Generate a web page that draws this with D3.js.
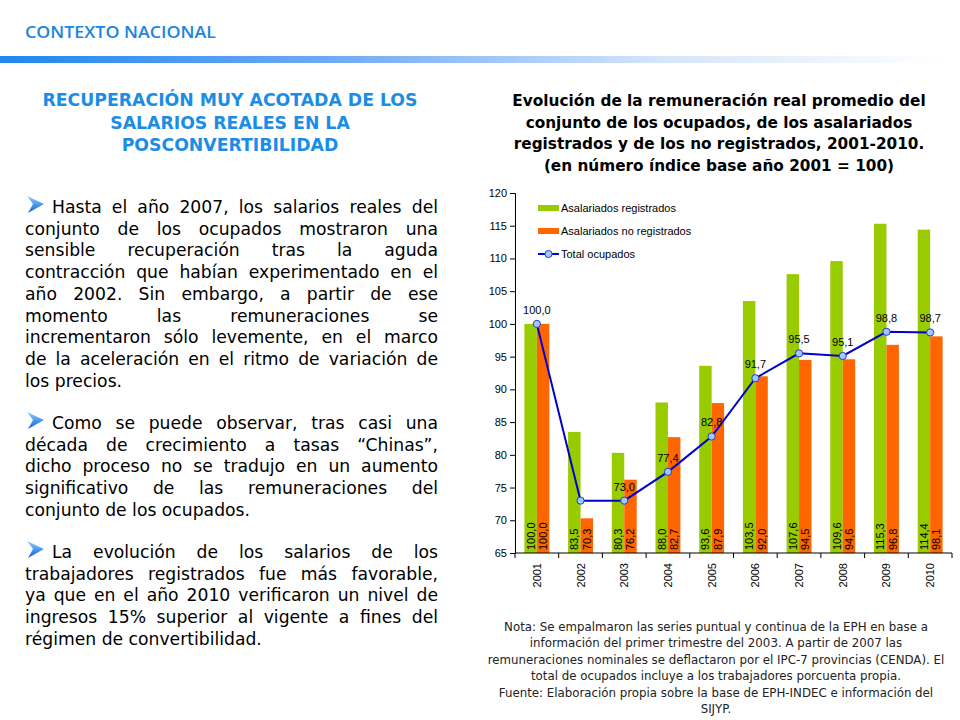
<!DOCTYPE html>
<html><head><meta charset="utf-8">
<script src="https://cdn.jsdelivr.net/npm/d3@7/dist/d3.min.js"></script>
<style>body{margin:0;background:#fff}svg{display:block}</style>
</head><body>
<script>
// ---------- DATA ----------
const years = ["2001","2002","2003","2004","2005","2006","2007","2008","2009","2010"];
const registrados   = [100.0, 83.5, 80.3, 88.0, 93.6, 103.5, 107.6, 109.6, 115.3, 114.4];
const noRegistrados = [100.0, 70.3, 76.2, 82.7, 87.9, 92.0, 94.5, 94.6, 96.8, 98.1];
const totalOcupados = [100.0, 73.0, 73.0, 77.4, 82.8, 91.7, 95.5, 95.1, 98.8, 98.7];
const showTotalLabel = [true, false, true, true, true, true, true, true, true, true];
const yTicks = [65, 70, 75, 80, 85, 90, 95, 100, 105, 110, 115, 120];
const seriesNames = ["Asalariados registrados", "Asalariados no registrados", "Total ocupados"];

const headerText = "CONTEXTO NACIONAL";
const leftTitle = ["RECUPERACIÓN MUY ACOTADA DE LOS", "SALARIOS REALES EN LA", "POSCONVERTIBILIDAD"];
const paragraphs = [
  ["Hasta el año 2007, los salarios reales del",
   "conjunto de los ocupados mostraron una",
   "sensible recuperación tras la aguda",
   "contracción que habían experimentado en el",
   "año 2002. Sin embargo, a partir de ese",
   "momento las remuneraciones se",
   "incrementaron sólo levemente, en el marco",
   "de la aceleración en el ritmo de variación de",
   "los precios."],
  ["Como se puede observar, tras casi una",
   "década de crecimiento a tasas “Chinas”,",
   "dicho proceso no se tradujo en un aumento",
   "significativo de las remuneraciones del",
   "conjunto de los ocupados."],
  ["La evolución de los salarios de los",
   "trabajadores registrados fue más favorable,",
   "ya que en el año 2010 verificaron un nivel de",
   "ingresos 15% superior al vigente a fines del",
   "régimen de convertibilidad."]
];
const chartTitle = ["Evolución de la remuneración real promedio del",
  "conjunto de los ocupados, de los asalariados",
  "registrados y de los no registrados, 2001-2010.",
  "(en número índice base año 2001 = 100)"];
const noteLines = ["Nota: Se empalmaron las series puntual y continua de la EPH en base a",
  "información del primer trimestre del 2003. A partir de 2007 las",
  "remuneraciones nominales se deflactaron por el IPC-7 provincias (CENDA). El",
  "total de ocupados incluye a los trabajadores porcuenta propia.",
  "Fuente: Elaboración propia sobre la base de EPH-INDEC e información del",
  "SIJYP."];

// ---------- SETUP ----------
const W = 960, H = 720;
const svg = d3.select("body").append("svg").attr("width", W).attr("height", H);
const defs = svg.append("defs");
const grad = defs.append("linearGradient").attr("id", "hdr").attr("x1", "0").attr("x2", "1");
grad.append("stop").attr("offset", "0").attr("stop-color", "#1f87ee");
grad.append("stop").attr("offset", "0.35").attr("stop-color", "#6eaaf6");
grad.append("stop").attr("offset", "0.7").attr("stop-color", "#d5e5fb");
grad.append("stop").attr("offset", "1").attr("stop-color", "#ffffff");
const ag = defs.append("linearGradient").attr("id", "arrow").attr("x1", "0").attr("y1", "0").attr("x2", "0").attr("y2", "1");
ag.append("stop").attr("offset", "0").attr("stop-color", "#8fd0ff");
ag.append("stop").attr("offset", "1").attr("stop-color", "#0a64d8");

// Header
svg.append("text").attr("x", 25).attr("y", 38).text(headerText)
  .attr("font-family", "Open Sans").attr("font-weight", 600).attr("font-size", 15.5)
  .attr("fill", "#1a86e0").attr("textLength", 191).attr("lengthAdjust", "spacingAndGlyphs");
svg.append("rect").attr("x", 0).attr("y", 56).attr("width", 945).attr("height", 7).attr("fill", "url(#hdr)");

// Left title
svg.append("g").selectAll("text").data(leftTitle).join("text")
  .attr("x", 230).attr("y", (d, i) => 106 + i * 22.5)
  .attr("text-anchor", "middle").attr("font-family", "DejaVu Sans").attr("font-weight", 700)
  .attr("font-size", 17.3).attr("fill", "#1a8de6").text(d => d);

// Body paragraphs (justified)
const bodyFont = "DejaVu Sans", bodySize = 17.2;
const left = 25, right = 438, lh = 21.7;
const paraStartY = [213, 429, 558];
const body = svg.append("g").attr("font-family", bodyFont).attr("font-size", bodySize).attr("fill", "#000");
paragraphs.forEach((lines, pi) => {
  const ay = paraStartY[pi] - 12;
  body.append("path")
    .attr("d", `M${left+2},${ay-5} L${left+19},${ay+3} L${left+3},${ay+12} L${left+8},${ay+3} Z`)
    .attr("fill", "url(#arrow)");
  lines.forEach((line, li) => {
    const yy = paraStartY[pi] + li * lh;
    const x0 = li === 0 ? 52 : left;
    const words = line.split(" ");
    const isLast = li === lines.length - 1;
    const nodes = words.map(w => body.append("text").attr("y", yy).text(w));
    const widths = nodes.map(n => n.node().getComputedTextLength());
    const sum = d3.sum(widths);
    const spaceW = bodySize * 0.318;
    const gap = (isLast || words.length < 2) ? spaceW : (right - x0 - sum) / (words.length - 1);
    let xx = x0;
    nodes.forEach((n, k) => { n.attr("x", xx); xx += widths[k] + gap; });
  });
});

// Chart title
svg.append("g").selectAll("text").data(chartTitle).join("text")
  .attr("x", 719).attr("y", (d, i) => 106 + i * 21.7)
  .attr("text-anchor", "middle").attr("font-family", "DejaVu Sans").attr("font-weight", 700)
  .attr("font-size", 15.3).attr("fill", "#000").text(d => d);

// ---------- CHART ----------
const m = {left: 515, right: 952, top: 193, bottom: 553};
const x = d3.scaleBand().domain(years).range([m.left, m.right]).paddingInner(0.43).paddingOuter(0.215);
const xs = d3.scaleBand().domain([0, 1]).range([0, x.bandwidth()]);
const y = d3.scaleLinear().domain([65, 120]).range([m.bottom, m.top]);
const chartFont = "Liberation Sans";
const chart = svg.append("g").attr("font-family", chartFont);

const green = "#99cc00", orange = "#ff6600", lineBlue = "#0000cc";
const series = [registrados, noRegistrados];
const colors = [green, orange];
const fmt = v => d3.format(".1f")(v).replace(".", ",");

series.forEach((vals, si) => {
  const g = chart.append("g");
  g.selectAll("rect").data(vals).join("rect")
    .attr("x", (d, i) => x(years[i]) + xs(si))
    .attr("width", xs.bandwidth())
    .attr("y", d => y(d))
    .attr("height", d => y(65) - y(d))
    .attr("fill", colors[si]);
  g.selectAll("text").data(vals).join("text")
    .attr("transform", (d, i) => `translate(${x(years[i]) + xs(si) + xs.bandwidth() / 2 + 4},${y(65) - 3}) rotate(-90)`)
    .attr("font-size", 11).attr("fill", "#000").text(d => fmt(d));
});

// Axes
const yAxis = d3.axisLeft(y).tickValues(yTicks).tickSize(5).tickPadding(3).tickFormat(d3.format("d"));
const ya = chart.append("g").attr("transform", `translate(${m.left},0)`).call(yAxis);
ya.selectAll("text").attr("font-size", 11).attr("font-family", chartFont).attr("fill", "#000");
ya.selectAll("line, path").attr("stroke", "#000");

const xa = chart.append("g").attr("transform", `translate(0,${m.bottom})`);
xa.append("line").attr("x1", m.left).attr("x2", m.right).attr("stroke", "#000");
const bounds = d3.range(years.length + 1).map(i => m.left + i * x.step());
xa.selectAll("line.tk").data(bounds).join("line").attr("class", "tk")
  .attr("x1", d => d).attr("x2", d => d).attr("y1", 0).attr("y2", 5).attr("stroke", "#000");
xa.selectAll("text").data(years).join("text")
  .attr("transform", d => `translate(${x(d) + x.bandwidth() / 2 + 4},10) rotate(-90)`)
  .attr("text-anchor", "end").attr("font-size", 11).attr("fill", "#000").text(d => d);

// Line
const cx = (i) => x(years[i]) + x.bandwidth() / 2;
const line = d3.line().x((d, i) => cx(i)).y(d => y(d));
chart.append("path").datum(totalOcupados).attr("d", line)
  .attr("fill", "none").attr("stroke", lineBlue).attr("stroke-width", 2);
chart.selectAll("circle.pt").data(totalOcupados).join("circle").attr("class", "pt")
  .attr("cx", (d, i) => cx(i)).attr("cy", d => y(d)).attr("r", 3.6)
  .attr("fill", "#99ccff").attr("stroke", "#3333cc").attr("stroke-width", 1);
chart.selectAll("text.pl").data(totalOcupados).join("text").attr("class", "pl")
  .attr("x", (d, i) => cx(i)).attr("y", d => y(d) - 10)
  .attr("text-anchor", "middle").attr("font-size", 11).attr("fill", "#000")
  .text((d, i) => showTotalLabel[i] ? fmt(d) : "");

// Legend
const lg = chart.append("g");
const lx = 538, ly = [208, 231, 254];
lg.append("rect").attr("x", lx).attr("y", ly[0] - 3).attr("width", 21).attr("height", 6).attr("fill", green);
lg.append("rect").attr("x", lx).attr("y", ly[1] - 3).attr("width", 21).attr("height", 6).attr("fill", orange);
lg.append("line").attr("x1", lx).attr("x2", lx + 21).attr("y1", ly[2]).attr("y2", ly[2]).attr("stroke", lineBlue).attr("stroke-width", 2);
lg.append("circle").attr("cx", lx + 10.5).attr("cy", ly[2]).attr("r", 3.6).attr("fill", "#99ccff").attr("stroke", "#3333cc");
lg.selectAll("text").data(seriesNames).join("text")
  .attr("x", lx + 23).attr("y", (d, i) => ly[i] + 4).attr("font-size", 11).attr("fill", "#000").text(d => d);

// Note
svg.append("g").selectAll("text").data(noteLines).join("text")
  .attr("x", 716).attr("y", (d, i) => 631 + i * 16.4)
  .attr("text-anchor", "middle").attr("font-family", "DejaVu Sans").attr("font-size", 11.8)
  .attr("fill", "#222").text(d => d);
</script>
</body></html>
